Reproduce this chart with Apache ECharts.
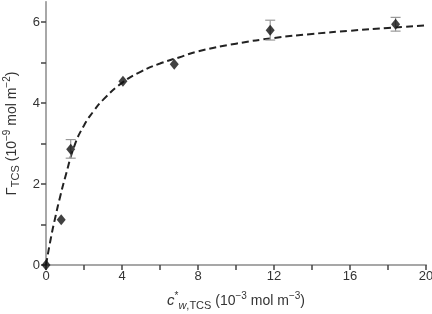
<!DOCTYPE html>
<html>
<head>
<meta charset="utf-8">
<script src="https://cdn.jsdelivr.net/npm/echarts@6/dist/echarts.min.js"></script>
<style>
  html, body { margin: 0; padding: 0; background: #fff; }
  #chart { width: 432px; height: 314px; }
</style>
</head>
<body>
<div id="chart"></div>
<script>
// measured points (c*, Γ)
const pointX = [0, 0.8, 1.3, 4.05, 6.75, 11.8, 18.4]
const pointY = [0, 1.12, 2.86, 4.54, 4.96, 5.8, 5.95]
// error bars (only where visible)
const errLow = [null, null, 2.64, null, null, 5.56, 5.78]
const errHigh = [null, null, 3.1, null, null, 6.05, 6.12]

// dashed fit curve
const fitX = [0, 0.25, 0.5, 0.75, 1, 1.5, 2, 2.5, 3, 4, 5, 6, 7, 8, 10, 12, 14, 16, 18, 20]
const fitY = [0, 0.65, 1.2, 1.7, 2.15, 2.95, 3.45, 3.8, 4.08, 4.5, 4.78, 4.98, 5.13, 5.28, 5.47, 5.61, 5.71, 5.79, 5.86, 5.92]

const FONT = 'Liberation Sans'
const TXT = '#333'

const chart = echarts.init(document.getElementById('chart'))

const errData = []
pointX.forEach((x, i) => {
  if (errLow[i] != null) errData.push([x, errLow[i], errHigh[i]])
})

// shared rich styles for axis titles
const rich = {
  c: { fontFamily: FONT, fontSize: 15, fontStyle: 'italic', color: TXT, lineHeight: 20 },
  t: { fontFamily: FONT, fontSize: 14, color: TXT, lineHeight: 20 },
  sup: { fontFamily: FONT, fontSize: 10, color: TXT, verticalAlign: 'top', lineHeight: 20 },
  sub: { fontFamily: FONT, fontSize: 11, color: TXT, verticalAlign: 'bottom', lineHeight: 20 },
  subi: { fontFamily: FONT, fontSize: 11, fontStyle: 'italic', color: TXT, verticalAlign: 'bottom', lineHeight: 20 }
}

// grey frame on top and right
const frameAxis = {
  type: 'value',
  axisLine: { show: true, lineStyle: { color: '#bbb', width: 1.5 } },
  axisTick: { show: false },
  axisLabel: { show: false },
  splitLine: { show: false }
}

chart.setOption({
  animation: false,
  grid: {
    left: 46, right: 6, top: 2, bottom: 49,
    outerBoundsMode: 'none',
    containLabel: false
  },
  xAxis: [{
    type: 'value',
    min: 0, max: 20, interval: 2,
    axisLine: { show: true, onZero: false, lineStyle: { color: '#444', width: 1.5 } },
    axisTick: { show: true, length: 5, lineStyle: { color: '#444', width: 1.5 } },
    axisLabel: {
      color: TXT, fontFamily: FONT, fontSize: 13, margin: 5,
      formatter: v => (v % 4 === 0 ? String(v) : '')
    },
    splitLine: { show: false },
    name: '{c|c}{sup|*}{subi|w}{sub|,TCS}{t| (10}{sup|−3}{t| mol m}{sup|−3}{t|)}',
    nameLocation: 'middle',
    nameGap: 26,
    nameTextStyle: { color: TXT, fontFamily: FONT, fontSize: 14, rich }
  }, Object.assign({ position: 'top', min: 0, max: 20 }, frameAxis)],
  yAxis: [{
    type: 'value',
    min: 0, max: 6.5, interval: 1,
    axisLine: { show: true, onZero: false, lineStyle: { color: '#444', width: 1.5 } },
    axisTick: { show: true, length: 5, lineStyle: { color: '#444', width: 1.5 } },
    axisLabel: {
      color: TXT, fontFamily: FONT, fontSize: 13, margin: 6,
      formatter: v => (v % 2 === 0 ? String(v) : ''),
      showMaxLabel: false
    },
    splitLine: { show: false },
    name: '{c|Γ}{sub|TCS}{t| (10}{sup|−9}{t| mol m}{sup|−2}{t|)}',
    nameLocation: 'middle',
    nameRotate: 90,
    nameGap: 22,
    nameTextStyle: {
      color: TXT, fontFamily: FONT, fontSize: 14,
      rich: Object.assign({}, rich, { c: { fontFamily: FONT, fontSize: 15, color: TXT, lineHeight: 20 } })
    }
  }, Object.assign({ position: 'right', min: 0, max: 6.5 }, frameAxis)],
  series: [
    {
      type: 'line',
      data: fitX.map((x, i) => [x, fitY[i]]),
      smooth: true,
      showSymbol: false,
      lineStyle: { color: '#222', width: 2, type: [7, 4] },
      z: 2
    },
    {
      type: 'custom',
      data: errData,
      renderItem: (params, api) => {
        const top = api.coord([api.value(0), api.value(2)])
        const bot = api.coord([api.value(0), api.value(1)])
        const hw = 5
        const style = { stroke: '#999', lineWidth: 1.2 }
        return {
          type: 'group',
          children: [
            { type: 'line', shape: { x1: top[0], y1: top[1], x2: bot[0], y2: bot[1] }, style },
            { type: 'line', shape: { x1: top[0] - hw, y1: top[1], x2: top[0] + hw, y2: top[1] }, style },
            { type: 'line', shape: { x1: bot[0] - hw, y1: bot[1], x2: bot[0] + hw, y2: bot[1] }, style }
          ]
        }
      },
      z: 3
    },
    {
      type: 'scatter',
      data: pointX.map((x, i) => [x, pointY[i]]),
      symbol: 'diamond',
      symbolSize: [9, 11],
      itemStyle: { color: '#111' },
      z: 4
    }
  ]
})
</script>
</body>
</html>
